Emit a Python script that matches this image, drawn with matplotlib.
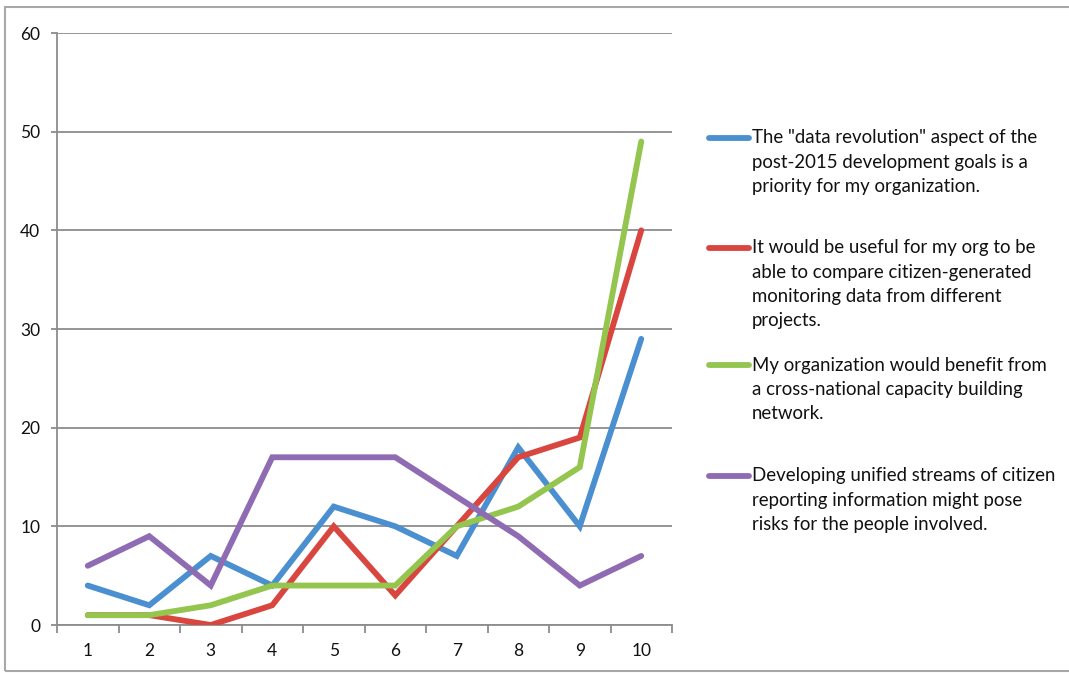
import matplotlib
matplotlib.use("Agg")
import matplotlib.pyplot as plt
from matplotlib.lines import Line2D
from matplotlib.patches import Rectangle
import numpy as np

categories = [1, 2, 3, 4, 5, 6, 7, 8, 9, 10]
data_revolution = [4, 2, 7, 4, 12, 10, 7, 18, 10, 29]
compare_data = [1, 1, 0, 2, 10, 3, 10, 17, 19, 40]
capacity_network = [1, 1, 2, 4, 4, 4, 10, 12, 16, 49]
pose_risks = [6, 9, 4, 17, 17, 17, 13, 9, 4, 7]
y_ticks = [0, 10, 20, 30, 40, 50, 60]

labels = [
    'The "data revolution" aspect of the\npost-2015 development goals is a\npriority for my organization.',
    'It would be useful for my org to be\nable to compare citizen-generated\nmonitoring data from different\nprojects.',
    'My organization would benefit from\na cross-national capacity building\nnetwork.',
    'Developing unified streams of citizen\nreporting information might pose\nrisks for the people involved.',
]
series = [data_revolution, compare_data, capacity_network, pose_risks]
colors = ["#4a8fd0", "#d9463f", "#93c54f", "#8f6bb3"]

plt.rcParams['font.family'] = ['Lato', 'DejaVu Sans']

W, H = 1069, 673
fig = plt.figure(figsize=(W / 100, H / 100), dpi=100)

# outer frame
fig.patches.append(Rectangle((5 / W, 2 / H), 1.2, (H - 9) / H, transform=fig.transFigure,
                             fill=False, edgecolor="#a8a8a8", linewidth=1.5))

ax = fig.add_axes([57 / W, 1 - 625 / H, (672 - 57) / W, (625 - 33) / H])
x = np.arange(1, len(categories) + 1)
for vals, c in zip(series, colors):
    ax.plot(x, vals, color=c, linewidth=4.2, solid_joinstyle="miter", solid_capstyle="round", zorder=3)

ax.set_xlim(0.5, len(categories) + 0.5)
ax.set_ylim(0, 60)
ax.set_yticks(y_ticks)
ax.set_yticklabels([str(v) for v in y_ticks])
ax.yaxis.grid(True, color="#8c8c8c", linewidth=1.3)
ax.set_axisbelow(True)

for s in ["top", "right"]:
    ax.spines[s].set_visible(False)
for s in ["left", "bottom"]:
    ax.spines[s].set_color("#8c8c8c")
    ax.spines[s].set_linewidth(1.3)

ax.set_xticks(np.arange(0.5, len(categories) + 1.0, 1.0))
ax.set_xticklabels([])
ax.set_xticks(x, minor=True)
ax.set_xticklabels([str(c) for c in categories], minor=True)
ax.tick_params(axis="x", which="major", length=6, width=1.3, color="#8c8c8c", direction="out")
ax.tick_params(axis="x", which="minor", length=0, pad=13, labelsize=12.5, labelcolor="#111111")
ax.tick_params(axis="y", length=4, width=1.3, color="#8c8c8c", pad=8, labelsize=12.5, labelcolor="#111111")

# legend drawn at the right of the plot
starts = [138, 248, 365, 476]
line_h = 24.3
for lab, c, y0 in zip(labels, colors, starts):
    fig.add_artist(Line2D([709 / W, 749 / W], [1 - y0 / H, 1 - y0 / H], transform=fig.transFigure,
                          color=c, linewidth=4.2, solid_capstyle="round"))
    for i, line in enumerate(lab.split("\n")):
        fig.text(752 / W, 1 - (y0 + i * line_h) / H, line, fontsize=13.4, color="#111111",
                 ha="left", va="center")

fig.savefig("out.png", dpi=100)
